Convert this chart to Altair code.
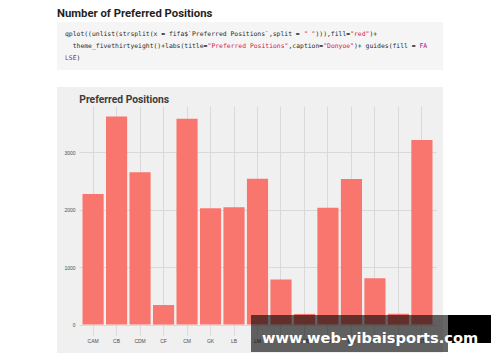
import altair as alt
import pandas as pd

# ---- data ----
positions = ["CAM", "CB", "CDM", "CF", "CM", "GK", "LB", "LM", "LW", "LWB",
             "RB", "RM", "RW", "RWB", "ST"]
counts = [2270, 3620, 2650, 340, 3580, 2025, 2040, 2535, 785, 185,
          2030, 2530, 805, 188, 3210]
y_ticks = [0, 1000, 2000, 3000]

heading = "Number of Preferred Positions"
chart_title = "Preferred Positions"
watermark = "www.web-yibaisports.com"

DARK, RED, PURPLE = "#2b2b2b", "#d6224f", "#a3167d"
code_lines = [
    [("qplot((unlist(strsplit(x = fifa$`Preferred Positions`,split = ", DARK),
     ('" "', RED), ("))),fill=", DARK), ('"red"', RED), (")+", DARK)],
    [("  theme_fivethirtyeight()+labs(title=", DARK),
     ('"Preferred Positions"', RED), (",caption=", DARK), ('"Donyoe"', RED),
     (")+ guides(fill = ", DARK), ("FA", PURPLE)],
    [("LSE", PURPLE), (")", DARK)],
]

df = pd.DataFrame({"pos": positions, "count": counts})
one = pd.DataFrame({"k": [0]})

W, H = 357, 229
ymax = max(counts)
ydom = [-0.05 * ymax, 1.05 * ymax]


def box(x1, x2, y1, y2, color, opacity=1.0):
    return alt.Chart(one).mark_rect(color=color, opacity=opacity).encode(
        x=alt.value(x1), x2=alt.value(x2), y=alt.value(y1), y2=alt.value(y2))


def label(x, y, txt, size, color, font, weight="normal", align="left"):
    return alt.Chart(one).mark_text(
        fontSize=size, color=color, font=font, fontWeight=weight,
        align=align, baseline="alphabetic").encode(
        x=alt.value(x), y=alt.value(y), text=alt.value(txt))


layers = []
# white page areas around the grey panel
layers.append(box(-71, 413, -98, -19, "white"))
layers.append(box(-71, -22, -19, 247, "white"))
layers.append(box(364, 413, -19, 247, "white"))
# code block
layers.append(box(-22, 364, -84, -36, "#f5f5f5"))
layers.append(label(-22, -89.5, heading, 11.3, "#1f1f1f", "Roboto", "bold"))

FS = 6.4
CW = 0.6021 * FS
for li, segs in enumerate(code_lines):
    col = 0
    for txt, colr in segs:
        lead = len(txt) - len(txt.lstrip(" "))
        layers.append(label(-14 + (col + lead) * CW, -70.5 + 12 * li,
                            txt.lstrip(" "), FS, colr, "DejaVu Sans Mono"))
        col += len(txt)

layers.append(label(0.3, -3.5, chart_title, 10.3, "#3c3c3c", "Roboto", "bold"))

bars = alt.Chart(df).mark_bar(color="#F8766D").encode(
    x=alt.X("pos:N", sort=positions,
            scale=alt.Scale(paddingInner=0.1, paddingOuter=0.15),
            axis=alt.Axis(title=None, labelAngle=0, ticks=False, domain=False,
                          grid=True, bandPosition=0.5, gridColor="#d9d9d9",
                          gridWidth=1, labelFontSize=5, labelColor="#4d4d4d",
                          labelFont="Liberation Sans", labelPadding=3)),
    y=alt.Y("count:Q",
            scale=alt.Scale(domain=ydom, nice=False, zero=False),
            axis=alt.Axis(title=None, values=y_ticks, format="d", ticks=False,
                          domain=False, grid=True, gridColor="#d9d9d9",
                          gridWidth=1, labelFontSize=5, labelColor="#4d4d4d",
                          labelFont="Liberation Sans", labelPadding=4)),
)
layers.append(bars)

# watermark
layers.append(box(172, 369, 209, 246, "black", 0.6))
layers.append(box(369, 412, 209, 237, "black"))
layers.append(label(183, 236.7, watermark, 14.6, "white", "DejaVu Sans", "bold"))

chart = alt.layer(*layers).properties(
    width=W, height=H,
    autosize=alt.AutoSizeParams(type="none"),
    padding={"left": 71, "top": 98, "right": 56, "bottom": 18},
).configure(background="#f0f0f0").configure_view(strokeWidth=0)

chart.save("out.html", embed_options={"renderer": "svg", "actions": False})
